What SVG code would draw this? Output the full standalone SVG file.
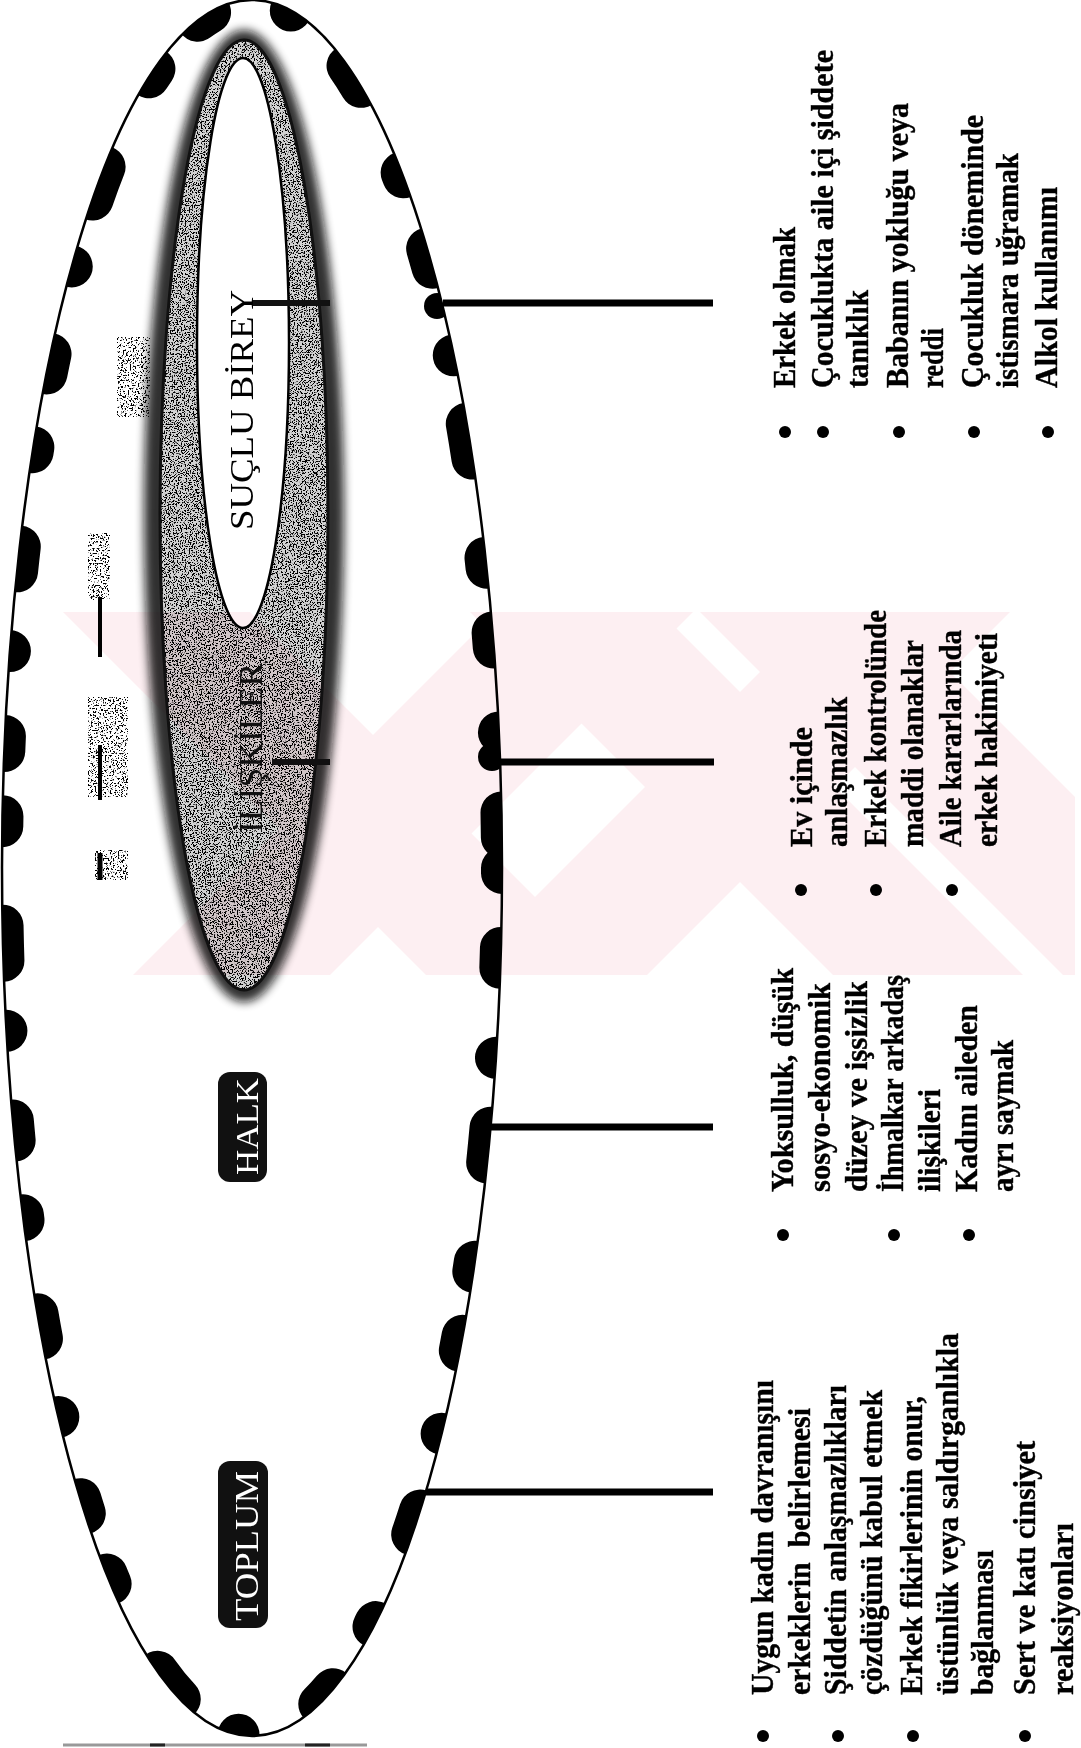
<svg xmlns="http://www.w3.org/2000/svg" width="1081" height="1748" viewBox="0 0 1081 1748">
<defs>
<style>
.lbl{font-family:"Liberation Serif","Times New Roman",serif;}
.item{font-family:"Liberation Serif","Times New Roman",serif;font-weight:bold;font-size:32px;fill:#000;stroke:#000;stroke-width:0.4;}
.conn{stroke:#000;stroke-width:7;fill:none;}
.stub{stroke:#111;stroke-width:6;}
.bul{fill:#000;}
.wm{fill:#fdeff2;}
.speck{fill:#000;filter:url(#speck);}
.speck2{fill:#000;filter:url(#speck2);}
</style>
<clipPath id="outerClip"><ellipse cx="252" cy="868" rx="250" ry="868"/></clipPath>
<clipPath id="wmClip"><rect x="63" y="612" width="1012" height="363"/></clipPath>
<filter id="speck" x="0" y="0" width="100%" height="100%">
<feTurbulence type="fractalNoise" baseFrequency="0.75" numOctaves="2" seed="4" result="n"/>
<feColorMatrix in="n" type="matrix" values="0 0 0 0 0  0 0 0 0 0  0 0 0 0 0  14 0 0 0 -7.3" result="d"/>
<feComposite in="d" in2="SourceAlpha" operator="in"/>
</filter>
<filter id="speck2" x="0" y="0" width="100%" height="100%">
<feTurbulence type="fractalNoise" baseFrequency="0.6" numOctaves="2" seed="9" result="n"/>
<feColorMatrix in="n" type="matrix" values="0 0 0 0 0  0 0 0 0 0  0 0 0 0 0  14 0 0 0 -7.8" result="d"/>
<feComposite in="d" in2="SourceAlpha" operator="in"/>
</filter>
<filter id="blur5" x="-30%" y="-10%" width="160%" height="120%"><feGaussianBlur stdDeviation="5"/></filter>
</defs>
<rect width="1081" height="1748" fill="#fff"/>

<g id="node-toplum">
<ellipse cx="252" cy="868" rx="250" ry="868" fill="#fff"/>
<g clip-path="url(#outerClip)">
<ellipse cx="252" cy="868" rx="250" ry="868" fill="none" stroke="#000" stroke-width="42" stroke-linecap="round" stroke-dasharray="5 75 20 90 0 70 35 100 10 65 15 85 0 80 25 95"/>
<circle cx="437" cy="306" r="13" fill="#000"/>
<circle cx="492" cy="757" r="14" fill="#000"/>
</g>
<ellipse cx="252" cy="868" rx="250" ry="868" fill="none" stroke="#000" stroke-width="2.5"/>
<rect x="218" y="1461" width="50" height="167" rx="12" fill="#111"/>
<text class="lbl" font-size="34" fill="#fff" transform="translate(258,1621) rotate(-90)" textLength="150" lengthAdjust="spacingAndGlyphs">TOPLUM</text>
</g>

<g id="scan-artifacts">
<rect class="speck2" x="88" y="533" width="22" height="67"/>
<rect class="speck2" x="88" y="697" width="40" height="100"/>
<rect class="speck2" x="95" y="850" width="33" height="30"/>
<rect class="speck2" x="117" y="337" width="33" height="80"/>
<line x1="100" y1="597" x2="100" y2="657" stroke="#000" stroke-width="4"/>
<line x1="100" y1="745" x2="100" y2="800" stroke="#000" stroke-width="4"/>
<line x1="100" y1="853" x2="100" y2="880" stroke="#000" stroke-width="5"/>
</g>

<g id="node-halk">
<rect x="218" y="1072" width="49" height="110" rx="12" fill="#111"/>
<text class="lbl" font-size="32" fill="#fff" transform="translate(258,1175) rotate(-90)" textLength="97" lengthAdjust="spacingAndGlyphs">HALK</text>
</g>

<g id="node-iliskiler">
<ellipse cx="244" cy="516" rx="100" ry="486" fill="#111" filter="url(#blur5)" opacity="0.85"/>
<ellipse cx="244" cy="515" rx="84" ry="475" fill="#d2d2d2"/>
<ellipse class="speck" cx="244" cy="515" rx="84" ry="475"/>
<ellipse cx="244" cy="515" rx="84" ry="475" fill="none" stroke="#111" stroke-width="3"/>
<text class="lbl" font-size="34" fill="#111" transform="translate(262,833) rotate(-90)" textLength="170" lengthAdjust="spacingAndGlyphs">İLİŞKİLER</text>
</g>

<g id="node-suclu-birey">
<ellipse cx="243" cy="343" rx="46" ry="285" fill="#fff" stroke="#000" stroke-width="2.5"/>
<text class="lbl" font-size="33" fill="#000" transform="translate(253,530) rotate(-90)" textLength="240" lengthAdjust="spacingAndGlyphs">SUÇLU BİREY</text>
</g>

<g id="connectors">
<line class="conn" x1="443" y1="303" x2="713" y2="303"/>
<line class="stub" x1="253" y1="303" x2="330" y2="303"/>
<line class="conn" x1="499" y1="762" x2="714" y2="762"/>
<line class="stub" x1="272" y1="762" x2="330" y2="762"/>
<line class="conn" x1="491" y1="1127" x2="713" y2="1127"/>
<line class="conn" x1="426" y1="1492" x2="713" y2="1492"/>
</g>

<g id="list-suclu-birey">
<circle class="bul" cx="785" cy="432" r="6"/>
<circle class="bul" cx="823" cy="432" r="6"/>
<circle class="bul" cx="899" cy="432" r="6"/>
<circle class="bul" cx="974" cy="432" r="6"/>
<circle class="bul" cx="1048" cy="432" r="6"/>
<text class="item" transform="translate(795,388) rotate(-90)" textLength="161" lengthAdjust="spacingAndGlyphs">Erkek olmak</text>
<text class="item" transform="translate(833,388) rotate(-90)" textLength="338" lengthAdjust="spacingAndGlyphs">Çocuklukta aile içi şiddete</text>
<text class="item" transform="translate(868,388) rotate(-90)" textLength="98" lengthAdjust="spacingAndGlyphs">tanıklık</text>
<text class="item" transform="translate(908,388) rotate(-90)" textLength="285" lengthAdjust="spacingAndGlyphs">Babanın yokluğu veya</text>
<text class="item" transform="translate(943,388) rotate(-90)" textLength="60" lengthAdjust="spacingAndGlyphs">reddi</text>
<text class="item" transform="translate(983,388) rotate(-90)" textLength="273" lengthAdjust="spacingAndGlyphs">Çocukluk döneminde</text>
<text class="item" transform="translate(1018,388) rotate(-90)" textLength="235" lengthAdjust="spacingAndGlyphs">istismara uğramak</text>
<text class="item" transform="translate(1057,388) rotate(-90)" textLength="201" lengthAdjust="spacingAndGlyphs">Alkol kullanımı</text>
</g>

<g id="list-iliskiler">
<circle class="bul" cx="801" cy="890" r="6"/>
<circle class="bul" cx="876" cy="890" r="6"/>
<circle class="bul" cx="952" cy="890" r="6"/>
<text class="item" transform="translate(812,847) rotate(-90)" textLength="120" lengthAdjust="spacingAndGlyphs">Ev içinde</text>
<text class="item" transform="translate(847,847) rotate(-90)" textLength="150" lengthAdjust="spacingAndGlyphs">anlaşmazlık</text>
<text class="item" transform="translate(886,847) rotate(-90)" textLength="237" lengthAdjust="spacingAndGlyphs">Erkek kontrolünde</text>
<text class="item" transform="translate(923,847) rotate(-90)" textLength="207" lengthAdjust="spacingAndGlyphs">maddi olanaklar</text>
<text class="item" transform="translate(961,847) rotate(-90)" textLength="217" lengthAdjust="spacingAndGlyphs">Aile kararlarında</text>
<text class="item" transform="translate(997,847) rotate(-90)" textLength="214" lengthAdjust="spacingAndGlyphs">erkek hakimiyeti</text>
</g>

<g id="list-halk">
<circle class="bul" cx="783" cy="1235" r="6"/>
<circle class="bul" cx="894" cy="1235" r="6"/>
<circle class="bul" cx="969" cy="1235" r="6"/>
<text class="item" transform="translate(793,1192) rotate(-90)" textLength="224" lengthAdjust="spacingAndGlyphs">Yoksulluk, düşük</text>
<text class="item" transform="translate(830,1192) rotate(-90)" textLength="209" lengthAdjust="spacingAndGlyphs">sosyo-ekonomik</text>
<text class="item" transform="translate(867,1192) rotate(-90)" textLength="211" lengthAdjust="spacingAndGlyphs">düzey ve işsizlik</text>
<text class="item" transform="translate(903,1192) rotate(-90)" textLength="217" lengthAdjust="spacingAndGlyphs">İhmalkar arkadaş</text>
<text class="item" transform="translate(940,1192) rotate(-90)" textLength="103" lengthAdjust="spacingAndGlyphs">ilişkileri</text>
<text class="item" transform="translate(977,1192) rotate(-90)" textLength="187" lengthAdjust="spacingAndGlyphs">Kadını aileden</text>
<text class="item" transform="translate(1013,1192) rotate(-90)" textLength="152" lengthAdjust="spacingAndGlyphs">ayrı saymak</text>
</g>

<g id="list-toplum">
<circle class="bul" cx="763" cy="1736" r="6"/>
<circle class="bul" cx="838" cy="1736" r="6"/>
<circle class="bul" cx="913" cy="1736" r="6"/>
<circle class="bul" cx="1025" cy="1736" r="6"/>
<text class="item" transform="translate(773,1695) rotate(-90)" textLength="315" lengthAdjust="spacingAndGlyphs">Uygun kadın davranışını</text>
<text class="item" transform="translate(810,1695) rotate(-90)" textLength="287" lengthAdjust="spacingAndGlyphs" style="white-space:pre">erkeklerin  belirlemesi</text>
<text class="item" transform="translate(846,1695) rotate(-90)" textLength="310" lengthAdjust="spacingAndGlyphs">Şiddetin anlaşmazlıkları</text>
<text class="item" transform="translate(882,1695) rotate(-90)" textLength="305" lengthAdjust="spacingAndGlyphs">çözdüğünü kabul etmek</text>
<text class="item" transform="translate(922,1695) rotate(-90)" textLength="299" lengthAdjust="spacingAndGlyphs">Erkek fikirlerinin onur,</text>
<text class="item" transform="translate(958,1695) rotate(-90)" textLength="362" lengthAdjust="spacingAndGlyphs">üstünlük veya saldırganlıkla</text>
<text class="item" transform="translate(993,1695) rotate(-90)" textLength="145" lengthAdjust="spacingAndGlyphs">bağlanması</text>
<text class="item" transform="translate(1035,1695) rotate(-90)" textLength="254" lengthAdjust="spacingAndGlyphs">Sert ve katı cinsiyet</text>
<text class="item" transform="translate(1073,1695) rotate(-90)" textLength="172" lengthAdjust="spacingAndGlyphs">reaksiyonları</text>
</g>

<g id="watermark" clip-path="url(#wmClip)" style="mix-blend-mode:multiply">
<polygon class="wm" points="63,612 250,612 613,975 426,975"/>
<polygon class="wm" points="470,612 660,612 1023,975 833,975"/>
<polygon class="wm" points="700,612 890,612 1253,975 1063,975"/>
<polygon class="wm" points="496,612 693,612 330,975 133,975"/>
<polygon class="wm" points="820,612 1010,612 647,975 457,975"/>
</g>

<g id="bottom-edge">
<line x1="63" y1="1745" x2="367" y2="1745" stroke="#999" stroke-width="3"/>
<line x1="150" y1="1745" x2="165" y2="1745" stroke="#222" stroke-width="3"/>
<line x1="305" y1="1745" x2="330" y2="1745" stroke="#222" stroke-width="3"/>
</g>
</svg>
